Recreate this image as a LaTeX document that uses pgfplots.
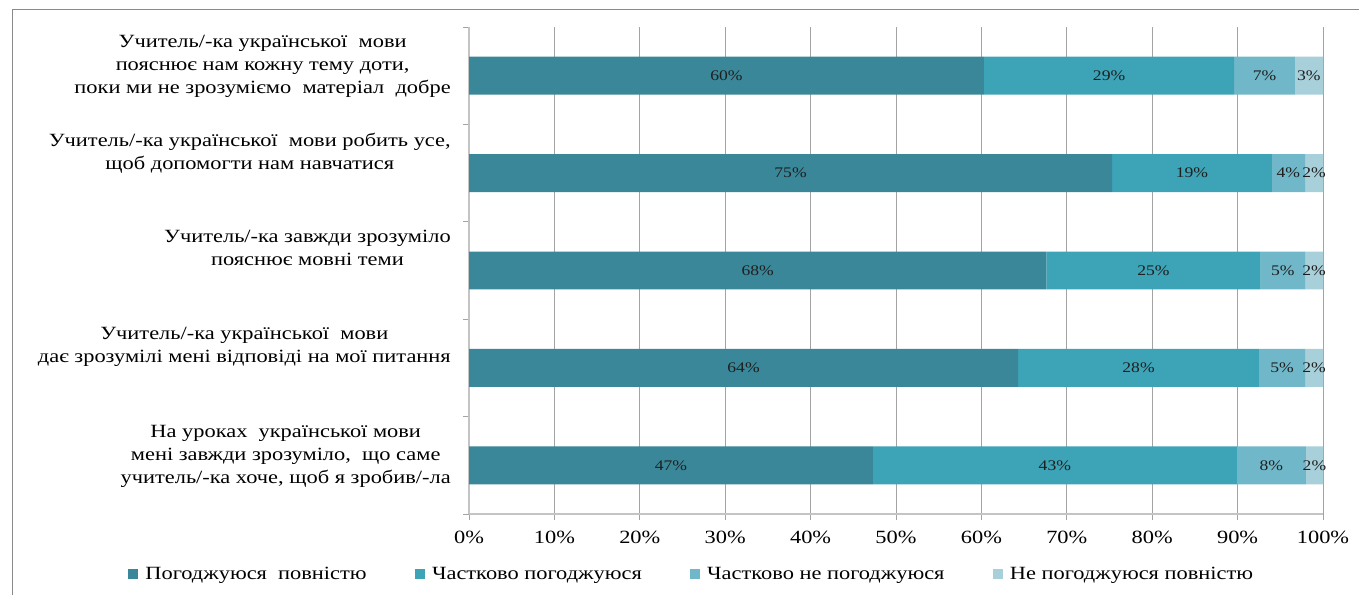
\documentclass[border=0pt]{standalone}
\usepackage{pgfplots}
\usepackage{pgfplotstable}
\pgfplotsset{compat=1.18}
\usepackage{fontspec}
\setmainfont{Liberation Serif}[FakeStretch=1.2]

\definecolor{c1}{HTML}{3A8799}
\definecolor{c2}{HTML}{3DA3B6}
\definecolor{c3}{HTML}{70B8C9}
\definecolor{c4}{HTML}{A8D0DB}
\definecolor{gridc}{HTML}{A3A3A3}
\definecolor{axc}{HTML}{C4C4C4}
\definecolor{framec}{HTML}{8A8A8A}

\pgfplotstableread{
y a b c d
0 60.3 29.3 7.1 3.3
1 75.3 18.7 3.9 2.1
2 67.6 25.1 5.2 2.1
3 64.3 28.2 5.4 2.1
4 47.3 42.6 8.1 2.0
}\data

\begin{document}
\begin{tikzpicture}
\begin{axis}[
  at={(351.75pt,60.75pt)}, anchor=south west,
  scale only axis, width=640.5pt, height=365.25pt,
  xbar stacked, bar width=0.39,
  xmin=0, xmax=100, ymin=-0.5, ymax=4.5, y dir=reverse,
  axis x line*=bottom, axis y line*=left,
  axis line style={draw=axc, line width=1.1pt},
  xmajorgrids, grid style={draw=gridc, line width=0.7pt},
  tick align=outside, major tick length=4.5pt,
  tick style={draw=gridc, line width=0.7pt},
  xtick={0,10,...,100},
  xticklabel={\pgfmathprintnumber{\tick}\%},
  /pgf/number format/assume math mode=true,
  xticklabel style={font=\fontsize{14}{16}\selectfont, text=black, yshift=-5pt},
  ytick={-0.5,0.5,1.5,2.5,3.5,4.5},
  yticklabels={
    {Учитель/-ка української\ \ мови\\пояснює нам кожну тему доти,\\поки ми не зрозуміємо\ \ матеріал\ \ добре},
    {Учитель/-ка\ української\ \ мови\ робить\ усе,\\щоб допомогти нам навчатися},
    {Учитель/-ка завжди зрозуміло\\пояснює мовні теми},
    {Учитель/-ка української\ \ мови\\дає зрозумілі\ мені відповіді на мої питання},
    {На уроках\ \ української мови\\мені завжди зрозуміло,\ \ що саме\\учитель/-ка хоче, щоб я зробив/-ла},
    {}},
  yticklabel style={font=\fontsize{14}{17.25}\selectfont, align=center, anchor=north east, inner sep=0pt, xshift=-9pt, yshift=-6pt, text=black},
  nodes near coords={\pgfmathprintnumber[fixed,precision=0]{\pgfplotspointmeta}\%},
  every node near coord/.append style={font=\fontsize{11}{13}\selectfont, text=black!88},
  point meta=explicit,
  legend style={at={(0.261,-0.124)}, anchor=center, legend columns=4, draw=none,
    font=\fontsize{14}{16}\selectfont,
    /tikz/every even column/.append style={column sep=34pt}},
  legend image code/.code={\fill[#1] (0pt,-3.75pt) rectangle (7.5pt,3.75pt); \path (11pt,0pt);},
]
\addplot[fill=c1, draw=none] table[x=a, y=y, meta=a] {\data};
\addplot[fill=c2, draw=none] table[x=b, y=y, meta=b] {\data};
\addplot[fill=c3, draw=none] table[x=c, y=y, meta=c] {\data};
\addplot[fill=c4, draw=none] table[x=d, y=y, meta=d] {\data};
\legend{Погоджуюся\ \ повністю, Частково погоджуюся, Частково не погоджуюся, Не погоджуюся повністю}
\end{axis}
\draw[framec, line width=0.75pt] (9pt,-5pt) -- (9pt,438.75pt) -- (1030pt,438.75pt);
\pgfresetboundingbox
\useasboundingbox (0,0) rectangle (1019.25pt,446.25pt);
\end{tikzpicture}
\end{document}
